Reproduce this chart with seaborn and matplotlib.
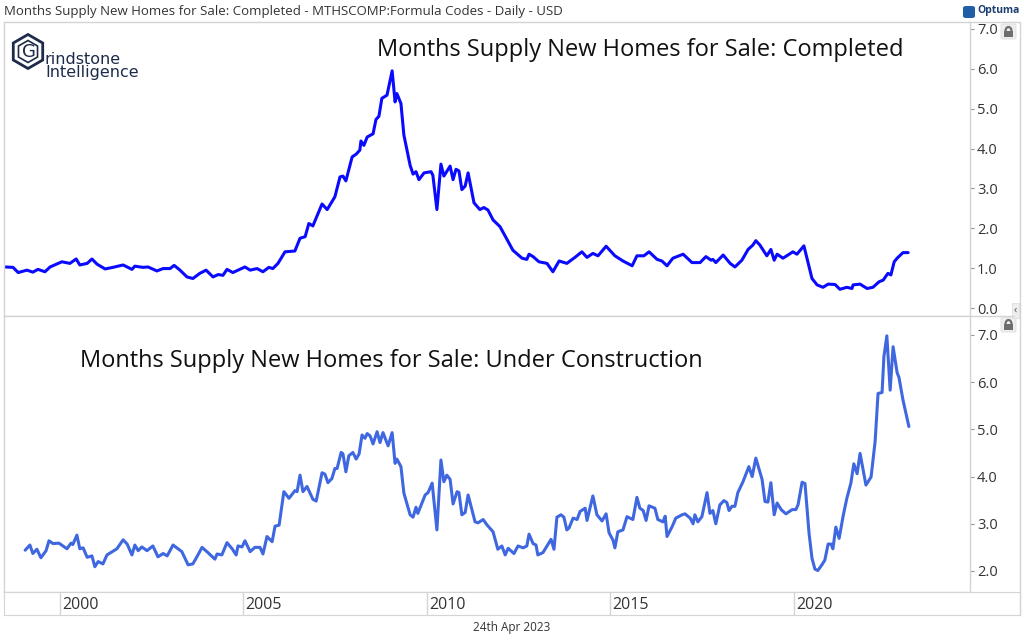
import numpy as np
import matplotlib
matplotlib.use('Agg')
import matplotlib.pyplot as plt
from matplotlib.lines import Line2D
from matplotlib.patches import Polygon, FancyBboxPatch, Rectangle, Arc
import seaborn as sns

sns.set_style('white')
plt.rcParams['font.family'] = ['Open Sans', 'DejaVu Sans']

# completed homes, months supply (decimal year, value)
comp_year = [1998.50, 1998.72, 1998.86, 1999.10, 1999.26, 1999.40, 1999.59, 1999.73, 2000.05, 2000.27,
             2000.44, 2000.54, 2000.74, 2000.87, 2001.01, 2001.23, 2001.44, 2001.72, 2001.96, 2002.04,
             2002.26, 2002.40, 2002.64, 2002.81, 2003.00, 2003.11, 2003.27, 2003.46, 2003.62, 2003.81,
             2003.98, 2004.17, 2004.31, 2004.44, 2004.55, 2004.71, 2004.90, 2005.04, 2005.18, 2005.37,
             2005.53, 2005.69, 2005.80, 2005.94, 2006.13, 2006.40, 2006.54, 2006.68, 2006.78, 2006.89,
             2007.14, 2007.28, 2007.49, 2007.63, 2007.71, 2007.79, 2007.96, 2008.07, 2008.17, 2008.20,
             2008.28, 2008.37, 2008.53, 2008.61, 2008.69, 2008.77, 2008.91, 2009.05, 2009.13, 2009.18,
             2009.29, 2009.37, 2009.54, 2009.62, 2009.70, 2009.78, 2009.92, 2010.11, 2010.16, 2010.27,
             2010.38, 2010.46, 2010.63, 2010.71, 2010.79, 2010.87, 2010.95, 2011.04, 2011.12, 2011.28,
             2011.44, 2011.55, 2011.66, 2011.80, 2011.99, 2012.18, 2012.34, 2012.59, 2012.72, 2012.78,
             2012.89, 2013.05, 2013.27, 2013.43, 2013.60, 2013.81, 2014.03, 2014.22, 2014.36, 2014.52,
             2014.66, 2014.88, 2015.12, 2015.34, 2015.59, 2015.72, 2015.91, 2016.05, 2016.27, 2016.40,
             2016.54, 2016.70, 2016.98, 2017.22, 2017.44, 2017.60, 2017.74, 2017.79, 2017.87, 2018.07,
             2018.26, 2018.39, 2018.58, 2018.75, 2018.88, 2018.96, 2019.07, 2019.26, 2019.37, 2019.46,
             2019.54, 2019.70, 2019.97, 2020.08, 2020.27, 2020.49, 2020.63, 2020.79, 2020.93, 2021.12,
             2021.25, 2021.44, 2021.58, 2021.61, 2021.80, 2021.99, 2022.15, 2022.32, 2022.43, 2022.56,
             2022.64, 2022.73, 2022.81, 2022.97, 2023.11]
comp_val = [1.03, 1.02, 0.89, 0.95, 0.90, 0.97, 0.91, 1.03, 1.16, 1.12,
            1.23, 1.08, 1.12, 1.23, 1.10, 0.98, 1.02, 1.08, 0.97, 1.05,
            1.02, 1.03, 0.93, 0.99, 0.99, 1.07, 0.95, 0.78, 0.74, 0.87,
            0.95, 0.78, 0.84, 0.82, 0.97, 0.89, 0.97, 1.03, 0.95, 0.99,
            0.91, 1.02, 0.99, 1.12, 1.41, 1.43, 1.75, 1.79, 2.12, 2.06,
            2.61, 2.47, 2.79, 3.29, 3.31, 3.19, 3.79, 3.86, 3.96, 4.19,
            4.08, 4.29, 4.37, 4.73, 4.81, 5.26, 5.34, 5.95, 5.17, 5.38,
            5.13, 4.34, 3.58, 3.36, 3.42, 3.22, 3.39, 3.42, 3.33, 2.47,
            3.61, 3.31, 3.56, 3.22, 3.48, 3.44, 2.97, 3.06, 3.39, 2.64,
            2.47, 2.52, 2.46, 2.21, 2.04, 1.72, 1.45, 1.25, 1.22, 1.35,
            1.29, 1.16, 1.12, 0.91, 1.18, 1.12, 1.27, 1.41, 1.27, 1.37,
            1.31, 1.55, 1.31, 1.18, 1.06, 1.31, 1.31, 1.41, 1.22, 1.18,
            1.06, 1.25, 1.35, 1.14, 1.14, 1.29, 1.20, 1.22, 1.14, 1.33,
            1.12, 1.03, 1.20, 1.47, 1.58, 1.69, 1.58, 1.31, 1.47, 1.20,
            1.35, 1.25, 1.41, 1.35, 1.56, 0.74, 0.58, 0.52, 0.60, 0.59,
            0.47, 0.52, 0.49, 0.58, 0.60, 0.49, 0.52, 0.66, 0.70, 0.87,
            0.83, 1.16, 1.25, 1.39, 1.39]

# under construction, months supply
uc_year = [1999.05, 1999.18, 1999.26, 1999.37, 1999.48, 1999.62, 1999.70, 1999.81, 1999.97, 2000.19,
           2000.30, 2000.35, 2000.46, 2000.54, 2000.63, 2000.74, 2000.87, 2000.95, 2001.04, 2001.17,
           2001.28, 2001.55, 2001.72, 2001.83, 2001.96, 2002.04, 2002.13, 2002.23, 2002.37, 2002.53,
           2002.67, 2002.81, 2002.92, 2003.08, 2003.32, 2003.49, 2003.62, 2003.73, 2003.87, 2004.03,
           2004.22, 2004.28, 2004.41, 2004.55, 2004.69, 2004.80, 2004.85, 2004.96, 2005.04, 2005.18,
           2005.31, 2005.45, 2005.53, 2005.64, 2005.78, 2005.86, 2005.97, 2006.10, 2006.24, 2006.40,
           2006.46, 2006.54, 2006.62, 2006.73, 2006.89, 2006.98, 2007.14, 2007.22, 2007.30, 2007.41,
           2007.49, 2007.55, 2007.66, 2007.71, 2007.79, 2007.87, 2007.98, 2008.07, 2008.15, 2008.23,
           2008.31, 2008.37, 2008.45, 2008.53, 2008.64, 2008.72, 2008.80, 2008.94, 2009.05, 2009.13,
           2009.18, 2009.29, 2009.37, 2009.54, 2009.62, 2009.70, 2009.75, 2009.95, 2010.03, 2010.14,
           2010.27, 2010.38, 2010.46, 2010.54, 2010.63, 2010.71, 2010.82, 2010.87, 2010.95, 2011.04,
           2011.12, 2011.31, 2011.39, 2011.53, 2011.63, 2011.80, 2011.93, 2012.04, 2012.13, 2012.21,
           2012.37, 2012.48, 2012.62, 2012.72, 2012.78, 2012.89, 2012.97, 2013.02, 2013.16, 2013.38,
           2013.46, 2013.54, 2013.65, 2013.73, 2013.81, 2013.87, 2013.98, 2014.09, 2014.17, 2014.31,
           2014.36, 2014.52, 2014.63, 2014.77, 2014.88, 2014.96, 2015.07, 2015.12, 2015.20, 2015.34,
           2015.45, 2015.61, 2015.72, 2015.80, 2015.89, 2015.97, 2016.05, 2016.21, 2016.29, 2016.43,
           2016.49, 2016.54, 2016.68, 2016.78, 2016.95, 2017.03, 2017.17, 2017.25, 2017.30, 2017.38,
           2017.49, 2017.63, 2017.71, 2017.79, 2017.87, 2017.98, 2018.09, 2018.17, 2018.23, 2018.31,
           2018.39, 2018.47, 2018.61, 2018.77, 2018.86, 2018.96, 2019.13, 2019.21, 2019.29, 2019.37,
           2019.46, 2019.54, 2019.65, 2019.78, 2019.95, 2020.05, 2020.11, 2020.22, 2020.30, 2020.41,
           2020.49, 2020.57, 2020.65, 2020.76, 2020.84, 2020.93, 2021.01, 2021.06, 2021.14, 2021.23,
           2021.34, 2021.44, 2021.55, 2021.63, 2021.72, 2021.80, 2021.96, 2022.10, 2022.21, 2022.29,
           2022.40, 2022.45, 2022.53, 2022.62, 2022.70, 2022.81, 2022.86, 2022.97, 2023.13]
uc_val = [2.44, 2.55, 2.37, 2.46, 2.28, 2.43, 2.64, 2.58, 2.59, 2.47,
          2.59, 2.56, 2.76, 2.47, 2.49, 2.29, 2.32, 2.09, 2.20, 2.15,
          2.34, 2.47, 2.66, 2.57, 2.34, 2.55, 2.43, 2.51, 2.43, 2.53,
          2.30, 2.37, 2.32, 2.55, 2.41, 2.13, 2.15, 2.30, 2.50, 2.39,
          2.25, 2.36, 2.34, 2.60, 2.47, 2.34, 2.53, 2.51, 2.64, 2.41,
          2.50, 2.50, 2.36, 2.73, 2.62, 2.95, 2.97, 3.68, 3.54, 3.70,
          3.68, 4.03, 3.68, 3.79, 3.52, 3.48, 4.08, 4.05, 3.87, 3.96,
          4.17, 4.17, 4.51, 4.48, 4.10, 4.44, 4.51, 4.37, 4.48, 4.88,
          4.81, 4.91, 4.86, 4.69, 4.95, 4.72, 4.93, 4.65, 4.93, 4.28,
          4.37, 4.21, 3.65, 3.19, 3.14, 3.35, 3.22, 3.61, 3.66, 3.86,
          2.87, 4.35, 3.89, 4.03, 3.94, 3.42, 3.68, 3.66, 3.19, 3.24,
          3.61, 3.04, 3.02, 3.09, 2.98, 2.83, 2.46, 2.53, 2.34, 2.48,
          2.37, 2.53, 2.49, 2.53, 2.78, 2.58, 2.55, 2.34, 2.39, 2.67,
          2.46, 3.14, 3.19, 3.14, 2.87, 2.91, 3.12, 3.09, 3.26, 3.33,
          3.07, 3.59, 3.19, 3.06, 3.21, 2.81, 2.65, 2.49, 2.83, 2.87,
          3.15, 3.09, 3.56, 3.33, 3.28, 3.07, 3.38, 3.33, 3.09, 3.04,
          3.16, 2.73, 2.94, 3.12, 3.19, 3.21, 3.12, 3.00, 3.19, 3.04,
          3.15, 3.66, 3.22, 3.28, 3.00, 3.40, 3.49, 3.45, 3.28, 3.37,
          3.37, 3.66, 3.89, 4.21, 4.00, 4.39, 3.94, 3.47, 3.46, 3.87,
          3.19, 3.44, 3.30, 3.21, 3.30, 3.30, 3.40, 3.88, 3.85, 2.80,
          2.27, 2.04, 2.01, 2.13, 2.23, 2.57, 2.57, 2.47, 2.93, 2.69,
          3.17, 3.54, 3.86, 4.27, 4.06, 4.49, 3.82, 3.99, 4.74, 5.76,
          5.78, 6.54, 6.98, 5.83, 6.75, 6.20, 6.10, 5.62, 5.06]

year_ticks = [2000, 2005, 2010, 2015, 2020]
top_yticks = [0, 1, 2, 3, 4, 5, 6, 7]
bot_yticks = [2, 3, 4, 5, 6, 7]

W, H = 1024, 641
GRID = '#d4d4d4'
TXT = '#333333'


def fx(x):
    return x / W


def fy(y):
    return 1 - y / H


def fig_line(xs, ys, color=GRID, lw=1.0):
    fig.add_artist(Line2D([fx(v) for v in xs], [fy(v) for v in ys], color=color, lw=lw,
                          transform=fig.transFigure))


def draw_lock(x0, y0):
    # little padlock badge at panel corner (x0, y0 = top-left in px)
    fig.add_artist(FancyBboxPatch((fx(x0), fy(y0 + 15)), 15 / W, 15 / H, boxstyle='round,pad=0,rounding_size=0.002',
                                  fc='#eeeeee', ec='#dddddd', lw=0.6, transform=fig.transFigure))
    fig.add_artist(Rectangle((fx(x0 + 3), fy(y0 + 13)), 9 / W, 6 / H, fc='#6e6e6e', ec='none',
                             transform=fig.transFigure))
    fig.add_artist(Arc((fx(x0 + 7.5), fy(y0 + 7)), 6 / W, 8 / H, theta1=0, theta2=180,
                       color='#6e6e6e', lw=1.6, transform=fig.transFigure))


def hexagon(cx, cy, r):
    ang = np.deg2rad(90 + 60 * np.arange(6))
    return [(fx(cx + r * np.cos(a)), fy(cy - r * np.sin(a))) for a in ang]


fig = plt.figure(figsize=(W / 100, H / 100), dpi=100)
fig.patch.set_facecolor('white')

xmin = 2000 + (4 - 60) / 36.7
xmax = 2000 + (970 - 60) / 36.7

ax1 = fig.add_axes([fx(4), fy(316), (970 - 4) / W, (316 - 22) / H])
ax2 = fig.add_axes([fx(4), fy(592), (970 - 4) / W, (592 - 316) / H])
ax3 = fig.add_axes([fx(4), fy(615), (1020 - 4) / W, (615 - 592) / H])

sns.lineplot(x=comp_year, y=comp_val, ax=ax1, color='#0a0aff', lw=2.2, sort=False, estimator=None)
sns.lineplot(x=uc_year, y=uc_val, ax=ax2, color='#3f68e0', lw=2.2, sort=False, estimator=None)

ax1.set_ylim(-0.20, 7.175)
ax2.set_ylim(1.555, 7.40)
ax1.set_yticks(top_yticks)
ax2.set_yticks(bot_yticks)

for ax in (ax1, ax2):
    ax.set_xlim(xmin, xmax)
    ax.set_xticks([])
    ax.set_xlabel('')
    ax.set_ylabel('')
    ax.yaxis.tick_right()
    ax.yaxis.set_major_formatter(matplotlib.ticker.FormatStrFormatter('%.1f'))
    ax.tick_params(axis='y', right=True, length=3, width=0.8, color='#999999', pad=2,
                   labelsize=10.5, labelcolor=TXT)
    for s in ax.spines.values():
        s.set_color(GRID)
        s.set_linewidth(1.0)

# date strip along the bottom
ax3.set_xlim(xmin, 2000 + (1020 - 60) / 36.7)
ax3.set_ylim(0, 1)
ax3.set_xticks([])
ax3.set_yticks([])
for s in ax3.spines.values():
    s.set_color(GRID)
for yr in year_ticks:
    ax3.axvline(yr, color=GRID, lw=1.0)
    ax3.text(yr + 0.06, 0.45, str(yr), ha='left', va='center', fontsize=11.5, color=TXT)

# frame pieces to the right of the value axis
fig_line([970, 1020], [22, 22])
fig_line([970, 1014], [316, 316])
fig_line([1020, 1020], [22, 615])

# headings
fig.text(fx(4), fy(11), 'Months Supply New Homes for Sale: Completed - MTHSCOMP:Formula Codes - Daily - USD',
         ha='left', va='center', fontsize=9.5, color=TXT)
fig.text(fx(377), fy(50), 'Months Supply New Homes for Sale: Completed',
         ha='left', va='center', fontsize=17, color='#111111')
fig.text(fx(80), fy(361), 'Months Supply New Homes for Sale: Under Construction',
         ha='left', va='center', fontsize=17, color='#111111')
fig.text(fx(512), fy(628), '24th Apr 2023', ha='center', va='center', fontsize=8.5, color=TXT)

# Grindstone logo
navy = '#1c2b4a'
fig.add_artist(Polygon(hexagon(28, 51.5, 17), closed=True, fc='none', ec=navy, lw=2.0,
                       transform=fig.transFigure))
fig.add_artist(Polygon(hexagon(28, 51.5, 11), closed=True, fc='none', ec=navy, lw=1.2,
                       transform=fig.transFigure))
fig.text(fx(29), fy(52), 'G', ha='center', va='center', fontsize=13, color=navy,
         family=['DejaVu Sans'])
fig.text(fx(45), fy(59), 'rindstone', ha='left', va='center', fontsize=11.5, color=navy,
         family=['DejaVu Sans'])
fig.text(fx(45), fy(72), 'Intelligence', ha='left', va='center', fontsize=11.5, color=navy,
         family=['DejaVu Sans'])

# Optuma badge
fig.add_artist(FancyBboxPatch((fx(963), fy(18)), 12 / W, 12 / H, boxstyle='round,pad=0,rounding_size=0.003',
                              fc='#1f5fa8', ec='none', transform=fig.transFigure))
fig.text(fx(977), fy(11), 'Optuma', ha='left', va='center', fontsize=7.5, color='#1d3f72', fontweight='bold')

draw_lock(1001, 24)
draw_lock(1001, 317)
fig.add_artist(Rectangle((fx(1012), fy(318)), 7 / W, 15 / H, fc='#eeeeee', ec='#dddddd', lw=0.6,
                         transform=fig.transFigure))
fig.text(fx(1015.5), fy(310), '‹', ha='center', va='center', fontsize=8, color='#555555')

fig.savefig('out.png', dpi=100)
